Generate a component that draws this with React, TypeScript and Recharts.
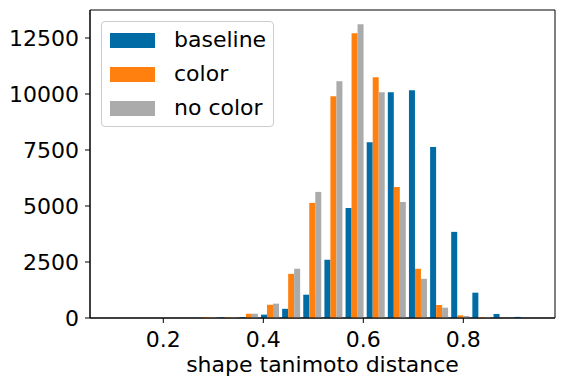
import React from 'react';
import { BarChart, Bar, XAxis, YAxis, Label, ReferenceArea } from 'recharts';

const binCenters = [0.1164, 0.1587, 0.2010, 0.2432, 0.2855, 0.3278, 0.3700, 0.4123, 0.4546, 0.4968,
  0.5391, 0.5814, 0.6237, 0.6659, 0.7082, 0.7505, 0.7927, 0.8350, 0.8773, 0.9195];
const baseline = [0, 0, 0, 0, 0, 30, 40, 150, 410, 1040, 2600, 4910, 7850, 10080, 10170, 7630, 3845, 1130, 180, 50];
const color = [0, 0, 0, 0, 40, 40, 190, 590, 1970, 5140, 9900, 12710, 10750, 5850, 2200, 580, 120, 40, 0, 0];
const noColor = [0, 0, 0, 0, 40, 35, 190, 640, 2200, 5630, 10570, 13110, 10080, 5180, 1750, 460, 90, 40, 0, 0];
const seriesNames = ['baseline', 'color', 'no color'];
const seriesColors = ['#006BA4', '#FF800E', '#ABABAB'];
const xTicks = [0.2, 0.4, 0.6, 0.8];
const yTicks = [0, 2500, 5000, 7500, 10000, 12500];
const xLabel = 'shape tanimoto distance';
const xDomain = [0.0534, 0.9834];
const yDomain = [0, 13750];

const data = binCenters.map((x, i) => ({ x, baseline: baseline[i], color: color[i], nocolor: noColor[i] }));
const keys = ['baseline', 'color', 'nocolor'];

const FONT = '"DejaVu Sans", sans-serif';
const FS = 22;

export default function App() {
  return (
    <div style={{ position: 'absolute', left: 0, top: 0, width: 565, height: 389, fontFamily: FONT }}>
      <BarChart width={565} height={389} data={data} margin={{ top: 10, right: 10, bottom: 0, left: 0 }}
        barCategoryGap="10%" barGap={0}>
        <XAxis dataKey="x" type="number" domain={xDomain} ticks={xTicks} allowDataOverflow
          height={71} tickSize={5} tickMargin={8} stroke="#000" interval={0}
          tick={{ fill: '#000', fontSize: FS, fontFamily: FONT }} tickFormatter={(v) => String(v)}>
          <Label value={xLabel} position="insideBottom" offset={17} fill="#000" fontSize={FS} fontFamily={FONT} />
        </XAxis>
        <YAxis type="number" domain={yDomain} ticks={yTicks} width={90} tickSize={5} tickMargin={6}
          stroke="#000" interval={0} allowDataOverflow
          tick={{ fill: '#000', fontSize: FS, fontFamily: FONT }} />
        {keys.map((k, i) => (
          <Bar key={k} dataKey={k} name={seriesNames[i]} fill={seriesColors[i]} isAnimationActive={false} />
        ))}
        <ReferenceArea x1={xDomain[0]} x2={xDomain[1]} y1={yDomain[0]} y2={yDomain[1]}
          fill="none" fillOpacity={0} stroke="#000" strokeWidth={1} ifOverflow="visible" />
      </BarChart>
      <div style={{
        position: 'absolute', left: 101, top: 21, width: 173, height: 106, boxSizing: 'border-box',
        border: '1px solid #cccccc', borderRadius: 4, background: 'rgba(255,255,255,0.8)'
      }}>
        {seriesNames.map((n, i) => (
          <div key={n} style={{ position: 'absolute', left: 8, top: 10 + i * 34, height: 16, display: 'flex', alignItems: 'center' }}>
            <div style={{ width: 45, height: 15, background: seriesColors[i] }} />
            <span style={{ marginLeft: 19, fontSize: FS, color: '#000', lineHeight: '16px', whiteSpace: 'nowrap' }}>{n}</span>
          </div>
        ))}
      </div>
    </div>
  );
}
